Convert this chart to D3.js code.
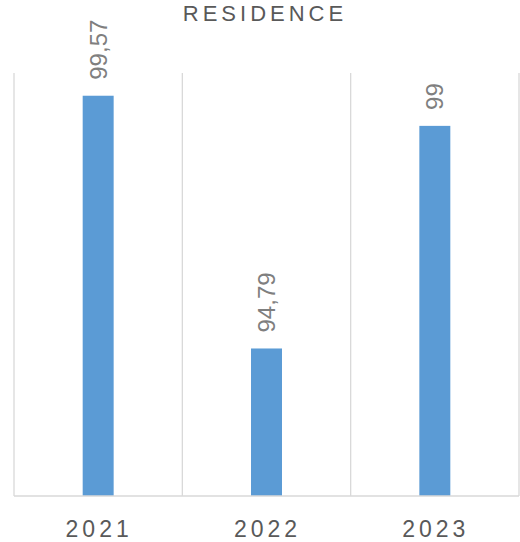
<!DOCTYPE html>
<html>
<head>
<meta charset="utf-8">
<script src="https://cdn.jsdelivr.net/npm/d3@7"></script>
<style>
  html, body { margin: 0; padding: 0; background: #fff; }
  svg { display: block; }
</style>
</head>
<body>
<div id="chart"></div>
<script>
// chart data
const title = "RESIDENCE";
const years = ["2021", "2022", "2023"];
const values = [99.57, 94.79, 99];
const yDomain = [92, 100];

const width = 520, height = 542;
const plot = { left: 14, right: 519, top: 73, bottom: 496 };

const svg = d3.select("#chart").append("svg")
    .attr("width", width)
    .attr("height", height);

const x = d3.scaleBand()
    .domain(years)
    .range([plot.left, plot.right])
    .paddingInner(0.816)
    .paddingOuter(0.408);

const y = d3.scaleLinear()
    .domain(yDomain)
    .range([plot.bottom, plot.top]);

const step = x.step();
const fmt = d3.formatLocale({ decimal: ",", thousands: ".", grouping: [3], currency: ["", ""] }).format("~r");

//Vertical grid lines at category boundaries
const bounds = years.map(d => x(d) - step * x.paddingInner() / 2);
bounds.push(plot.right);
svg.append("g").selectAll("line")
    .data(bounds)
    .join("line")
    .attr("x1", d => d).attr("x2", d => d)
    .attr("y1", plot.top).attr("y2", plot.bottom)
    .attr("stroke", "#d9d9d9")
    .attr("stroke-width", 1.3);

//Bars
svg.append("g").selectAll("rect")
    .data(values)
    .join("rect")
    .attr("x", (d, i) => x(years[i]))
    .attr("width", x.bandwidth())
    .attr("y", d => y(d))
    .attr("height", d => y(yDomain[0]) - y(d))
    .attr("fill", "#5b9bd5");

//Baseline
svg.append("line")
    .attr("x1", plot.left).attr("x2", plot.right)
    .attr("y1", plot.bottom).attr("y2", plot.bottom)
    .attr("stroke", "#d9d9d9")
    .attr("stroke-width", 1.3);

//Data labels, rotated
svg.append("g").selectAll("text")
    .data(values)
    .join("text")
    .attr("transform", (d, i) => "translate(" + (x(years[i]) + x.bandwidth() / 2) + "," + (y(d) - 16) + ")rotate(-90)")
    .attr("dy", "0.36em")
    .attr("text-anchor", "start")
    .attr("font-family", "'Liberation Sans', Arial, sans-serif")
    .attr("font-size", 24)
    .attr("fill", "#7f7f7f")
    .text(d => fmt(d));

//Category labels
svg.append("g").selectAll("text")
    .data(years)
    .join("text")
    .attr("x", d => x(d) + x.bandwidth() / 2 + 1)
    .attr("y", 537)
    .attr("text-anchor", "middle")
    .attr("font-family", "'Liberation Sans', Arial, sans-serif")
    .attr("font-size", 23)
    .attr("letter-spacing", 4)
    .attr("fill", "#595959")
    .text(d => d);

//Title
svg.append("text")
    .attr("x", 265)
    .attr("y", 21)
    .attr("text-anchor", "middle")
    .attr("font-family", "'Liberation Sans', Arial, sans-serif")
    .attr("font-size", 22)
    .attr("letter-spacing", 4)
    .attr("fill", "#595959")
    .text(title);
</script>
</body>
</html>
